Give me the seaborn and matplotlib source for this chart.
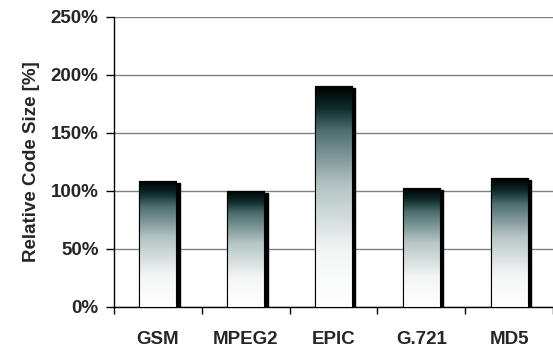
import numpy as np
import pandas as pd
import matplotlib
matplotlib.use("Agg")
import matplotlib.pyplot as plt
import seaborn as sns
from matplotlib.colors import LinearSegmentedColormap
from matplotlib.patches import Rectangle
from matplotlib.ticker import MultipleLocator, PercentFormatter
import matplotlib.transforms as mtransforms

# data
benchmarks = ["GSM", "MPEG2", "EPIC", "G.721", "MD5"]
code_size = [108, 100, 190, 102, 111]

df = pd.DataFrame({"bench": benchmarks, "size": code_size})

sns.set_style("white")
plt.rcParams["font.family"] = ["Liberation Sans", "DejaVu Sans"]
plt.rcParams["font.weight"] = "bold"

fig, ax = plt.subplots(figsize=(5.53, 3.52), dpi=100)
fig.subplots_adjust(left=0.206, right=1.0, top=0.953, bottom=0.128)

sns.barplot(data=df, x="bench", y="size", ax=ax, width=0.42,
            color="white", edgecolor="black", linewidth=0.8, zorder=3)

# gradient black (top) -> dark teal -> white (bottom)
cmap = LinearSegmentedColormap.from_list(
    "grad", [(0.0, "#ffffff"), (0.25, "#f4f6f6"), (0.55, "#b4c4c4"),
             (0.8, "#4e6e6e"), (0.9, "#0e2c2c"), (1.0, "#000000")])
grad = np.linspace(0, 1, 256).reshape(-1, 1)

shadow = mtransforms.offset_copy(ax.transData, fig=fig, x=3.5, y=-2, units="dots")
for p in list(ax.patches):
    x0, y0 = p.get_x(), p.get_y()
    w, h = p.get_width(), p.get_height()
    ax.add_patch(Rectangle((x0, y0), w, h, transform=shadow,
                           facecolor="black", edgecolor="black", zorder=2))
    im = ax.imshow(grad, cmap=cmap, aspect="auto", origin="lower",
                   extent=(x0, x0 + w, y0, y0 + h), zorder=3.5)
    im.set_clip_path(p)
    ax.add_patch(Rectangle((x0, y0), w, h, facecolor="none",
                           edgecolor="black", linewidth=0.8, zorder=4))

ax.set_xlim(-0.5, len(benchmarks) - 0.5)
ax.set_ylim(0, 250)
ax.yaxis.set_major_locator(MultipleLocator(50))
ax.yaxis.set_major_formatter(PercentFormatter(decimals=0))
ax.grid(axis="y", color="#808080", linewidth=1.0, zorder=0)
ax.set_axisbelow(True)

ax.set_xlabel("")
ax.set_ylabel("Relative Code Size [%]", fontsize=13.5, fontweight="bold", labelpad=8)
ax.tick_params(axis="x", labelsize=13.5, length=0, pad=17)
ax.tick_params(axis="y", labelsize=13.5, length=6, width=1, color="black",
               pad=5, direction="out", left=True)
for lab in ax.get_xticklabels() + ax.get_yticklabels():
    lab.set_fontweight("bold")

# x ticks between categories
ax.set_xticks(np.arange(len(benchmarks) + 1) - 0.5, minor=True)
ax.tick_params(axis="x", which="minor", length=5, width=1, color="black",
               direction="out", bottom=True)

for side in ["top", "right"]:
    ax.spines[side].set_visible(False)
for side in ["left", "bottom"]:
    ax.spines[side].set_color("black")
    ax.spines[side].set_linewidth(1.0)

fig.savefig("out.png", dpi=100)
